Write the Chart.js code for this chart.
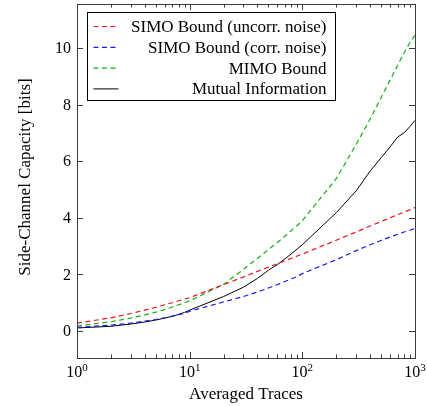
<!DOCTYPE html>
<html>
<head>
<meta charset="utf-8">
<script src="https://cdn.jsdelivr.net/npm/chart.js@4/dist/chart.umd.min.js"></script>
<style>
  html, body { margin: 0; padding: 0; background: #fff; }
  #chart-container { width: 427px; height: 406px; position: relative; }
</style>
</head>
<body>
<div id="chart-container"><canvas id="capacity-chart"></canvas></div>
<script>
// Averaged traces (x, log scale)
const traces = [1, 2, 3, 4, 5, 6, 7, 8, 9, 10, 20, 30, 40, 50, 60, 70, 80, 90, 100, 200, 300, 400, 500, 600, 700, 800, 900, 1000];

const simoUncorr = [0.28, 0.47, 0.62, 0.74, 0.84, 0.93, 1.00, 1.07, 1.13, 1.18, 1.64, 1.91, 2.11, 2.26, 2.38, 2.48, 2.57, 2.65, 2.72, 3.21, 3.50, 3.71, 3.87, 4.00, 4.11, 4.20, 4.28, 4.36];
const simoCorr = [0.13, 0.21, 0.28, 0.35, 0.41, 0.47, 0.53, 0.58, 0.63, 0.70, 1.03, 1.22, 1.38, 1.52, 1.64, 1.75, 1.84, 1.93, 2.03, 2.52, 2.84, 3.05, 3.20, 3.32, 3.42, 3.50, 3.56, 3.62];
const mimo = [0.18, 0.33, 0.46, 0.57, 0.67, 0.76, 0.85, 0.93, 1.00, 1.07, 1.65, 2.18, 2.57, 2.88, 3.13, 3.35, 3.55, 3.73, 3.90, 5.38, 6.59, 7.49, 8.24, 8.86, 9.38, 9.83, 10.18, 10.45];
const mutualInfo = [0.11, 0.17, 0.25, 0.32, 0.39, 0.46, 0.52, 0.59, 0.66, 0.74, 1.22, 1.55, 1.86, 2.15, 2.35, 2.55, 2.73, 2.90, 3.05, 4.18, 4.95, 5.65, 6.12, 6.50, 6.85, 7.00, 7.22, 7.44];

const seriesLabels = ['SIMO Bound (uncorr. noise)', 'SIMO Bound (corr. noise)', 'MIMO Bound', 'Mutual Information'];

const xMajorTicks = [1, 10, 100, 1000];
const xTickExponents = ['0', '1', '2', '3'];
const yTicks = [0, 2, 4, 6, 8, 10];

const CONFIG = {
  font: "'Liberation Serif', 'DejaVu Serif', serif",
  textSize: 17,   // legend and axis titles
  tickSize: 16,   // tick labels
  xTitle: 'Averaged Traces',
  yTitle: 'Side-Channel Capacity [bits]',
  frameColor: '#3c3c3c'
};

function toPoints(values) {
  return values.map((v, i) => ({ x: traces[i], y: v }));
}

function makeDataset(label, values, color, dashed) {
  return {
    label: label,
    data: toPoints(values),
    borderColor: color,
    borderWidth: dashed ? 1.2 : 1,
    borderDash: dashed ? [5, 3.5] : [],
    pointRadius: 0,
    fill: false,
    tension: 0
  };
}

// ticks, labels, frame and legend drawn the pgfplots way
const axisPlugin = {
  id: 'pgfAxis',
  afterDatasetsDraw(chart) {
    const ctx = chart.ctx;
    const area = chart.chartArea;
    const xs = chart.scales.x;
    const ys = chart.scales.y;
    ctx.save();

    ctx.strokeStyle = CONFIG.frameColor;
    ctx.lineWidth = 1;
    ctx.setLineDash([]);

    // x ticks, inward on top and bottom
    ctx.beginPath();
    for (let dec = 1; dec <= 100; dec *= 10) {
      for (let m = 1; m <= 9; m++) {
        const px = Math.round(xs.getPixelForValue(dec * m)) + 0.5;
        const len = m === 1 ? 6 : 3.5;
        ctx.moveTo(px, area.bottom); ctx.lineTo(px, area.bottom - len);
        ctx.moveTo(px, area.top); ctx.lineTo(px, area.top + len);
      }
    }
    yTicks.forEach(v => {
      const py = Math.round(ys.getPixelForValue(v)) + 0.5;
      ctx.moveTo(area.left, py); ctx.lineTo(area.left + 6, py);
      ctx.moveTo(area.right, py); ctx.lineTo(area.right - 6, py);
    });
    ctx.stroke();

    // frame
    ctx.strokeRect(Math.round(area.left) + 0.5, Math.round(area.top) + 0.5,
      Math.round(area.right - area.left), Math.round(area.bottom - area.top));

    ctx.fillStyle = '#000';
    const tickFont = `${CONFIG.tickSize}px ${CONFIG.font}`;
    const supFont = `${Math.round(CONFIG.tickSize * 0.7)}px ${CONFIG.font}`;

    // y tick labels
    ctx.font = tickFont;
    ctx.textAlign = 'right';
    ctx.textBaseline = 'middle';
    yTicks.forEach(v => {
      ctx.fillText(String(v), area.left - 6, ys.getPixelForValue(v) + 1);
    });

    // x tick labels as 10^n
    ctx.textBaseline = 'alphabetic';
    ctx.textAlign = 'left';
    xMajorTicks.forEach((v, i) => {
      const px = xs.getPixelForValue(v);
      ctx.font = tickFont;
      const baseW = ctx.measureText('10').width;
      ctx.font = supFont;
      const supW = ctx.measureText(xTickExponents[i]).width;
      const start = px - (baseW + supW) / 2;
      ctx.font = tickFont;
      ctx.fillText('10', start, area.bottom + 19);
      ctx.font = supFont;
      ctx.fillText(xTickExponents[i], start + baseW, area.bottom + 13);
    });

    // axis titles
    ctx.font = `${CONFIG.textSize}px ${CONFIG.font}`;
    ctx.textAlign = 'center';
    ctx.fillText(CONFIG.xTitle, (area.left + area.right) / 2, area.bottom + 41);
    ctx.save();
    ctx.translate(30, (area.top + area.bottom) / 2 - 4);
    ctx.rotate(-Math.PI / 2);
    ctx.fillText(CONFIG.yTitle, 0, 0);
    ctx.restore();

    // legend box
    const box = { x: 87.5, y: 12.5, w: 248, h: 88 };
    ctx.fillStyle = '#fff';
    ctx.fillRect(box.x, box.y, box.w, box.h);
    ctx.strokeStyle = '#000';
    ctx.strokeRect(box.x, box.y, box.w, box.h);
    chart.data.datasets.forEach((ds, i) => {
      const cy = box.y + 14 + i * 20.8;
      ctx.strokeStyle = ds.borderColor;
      ctx.lineWidth = ds.borderWidth;
      ctx.setLineDash(ds.borderDash);
      ctx.beginPath();
      ctx.moveTo(box.x + 6, cy);
      ctx.lineTo(box.x + 31, cy);
      ctx.stroke();
      ctx.setLineDash([]);
      ctx.fillStyle = '#000';
      ctx.textAlign = 'right';
      ctx.textBaseline = 'middle';
      ctx.fillText(ds.label, box.x + box.w - 9, cy + 1);
    });

    ctx.restore();
  }
};

const chartConfig = {
  type: 'line',
  data: {
    datasets: [
      makeDataset(seriesLabels[0], simoUncorr, '#e8141a', true),
      makeDataset(seriesLabels[1], simoCorr, '#1a1ae8', true),
      makeDataset(seriesLabels[2], mimo, '#14b014', true),
      makeDataset(seriesLabels[3], mutualInfo, '#000000', false)
    ]
  },
  options: {
    responsive: true,
    maintainAspectRatio: false,
    animation: false,
    layout: { padding: { left: 77, right: 12, top: 4, bottom: 48 } },
    scales: {
      x: { type: 'logarithmic', min: 1, max: 1000, display: false },
      y: { type: 'linear', min: -0.95, max: 11.55, display: false }
    },
    plugins: {
      legend: { display: false },
      tooltip: { enabled: false }
    }
  },
  plugins: [axisPlugin]
};

const canvasContext = document.getElementById('capacity-chart').getContext('2d');
const capacityChart = new Chart(canvasContext, chartConfig);
</script>
</body>
</html>
